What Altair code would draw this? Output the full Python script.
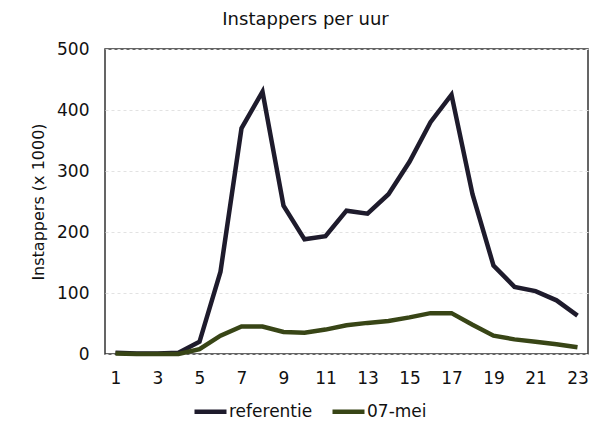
import altair as alt
import pandas as pd

hours = list(range(1, 24))
referentie = [2, 1, 1, 2, 20, 135, 370, 430, 243, 188, 193, 235, 230, 262, 315, 380, 425, 262, 145, 110, 103, 88, 63]
mei07 = [1, 0, 0, 0, 8, 30, 45, 45, 36, 35, 40, 47, 51, 54, 60, 67, 67, 48, 30, 24, 20, 16, 11]
series = ["referentie", "07-mei"]
colors = ["#1e1b2c", "#384516"]

rows = []
for name, vals in zip(series, [referentie, mei07]):
    for h, v in zip(hours, vals):
        rows.append({"uur": h, "waarde": v, "reeks": name})
df = pd.DataFrame(rows)

font = "DejaVu Sans"

chart = alt.Chart(df).mark_line(strokeWidth=4.5, strokeJoin="miter").encode(
    x=alt.X("uur:Q", scale=alt.Scale(domain=[0.5, 23.5], nice=False, zero=False),
            axis=alt.Axis(values=list(range(1, 24, 2)), title=None, grid=False, ticks=False,
                          domain=False, labelFontSize=17, labelColor="#111", labelPadding=16,
                          labelFont=font)),
    y=alt.Y("waarde:Q", scale=alt.Scale(domain=[0, 500], nice=False),
            axis=alt.Axis(values=[0, 100, 200, 300, 400, 500], title="Instappers (x 1000)",
                          grid=True, gridColor="#e2e2e2", gridDash=[3, 3], gridWidth=1,
                          ticks=False, domain=False, labelFontSize=17, labelColor="#111",
                          labelPadding=16, titleFontSize=16, titleFont=font, titleFontWeight="normal",
                          titleColor="#111", titlePadding=10, labelFont=font)),
    color=alt.Color("reeks:N", scale=alt.Scale(domain=series, range=colors),
                    legend=alt.Legend(title=None, orient="none", direction="horizontal",
                                      legendX=87, legendY=344, symbolType="stroke",
                                      symbolStrokeWidth=4.5, symbolSize=1024, labelFontSize=17,
                                      labelFont=font, labelColor="#111", columnPadding=10,
                                      labelOffset=0, padding=0)),
).properties(
    width=483, height=305,
    title=alt.TitleParams("Instappers per uur", fontSize=18, font=font, fontWeight="normal",
                          color="#111", anchor="middle", offset=11, dx=-41),
    padding={"left": 97, "top": 41, "right": 4, "bottom": 72},
    autosize=alt.AutoSizeParams(type="none"),
).configure_view(stroke="#333333", strokeWidth=1.5)

chart.save("out.html", embed_options={"renderer": "svg", "actions": False})
